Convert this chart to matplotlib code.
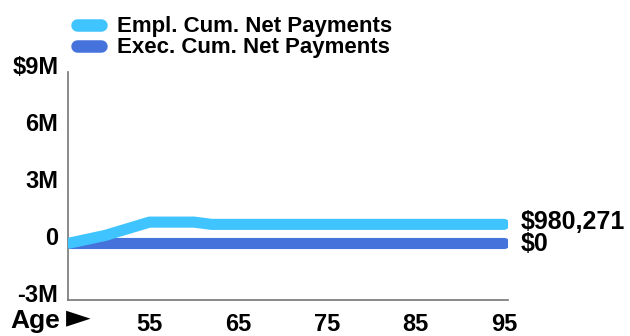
import matplotlib
matplotlib.use('Agg')
import matplotlib.pyplot as plt
import matplotlib.transforms as mtransforms

# region Data
ages = [46, 50, 55, 60, 62, 65, 70, 75, 80, 85, 90, 95]
empl_cum = [0, 400000, 1100000, 1100000, 980271, 980271, 980271, 980271, 980271, 980271, 980271, 980271]
exec_cum = [0, 0, 0, 0, 0, 0, 0, 0, 0, 0, 0, 0]
series_names = ['Empl. Cum. Net Payments', 'Exec. Cum. Net Payments']
end_labels = ['$980,271', '$0']
y_ticks = [-3e6, 0, 3e6, 6e6, 9e6]
y_tick_labels = ['-3M', '0', '3M', '6M', '$9M']
x_ticks = [55, 65, 75, 85, 95]
# endregion

# region Style
plt.rcParams['font.family'] = ['Liberation Sans', 'DejaVu Sans']
plt.rcParams['font.weight'] = 'bold'
light_blue = '#40C4FF'
dark_blue = '#4673DB'
spine_gray = '#777777'
# endregion

fig = plt.figure(figsize=(6.3, 3.36), dpi=100, facecolor='white')
ax = fig.add_axes([0.108, 0.107, 0.699, 0.679])

ax.plot(ages, exec_cum, color=dark_blue, lw=8, solid_capstyle='round',
        solid_joinstyle='round', label=series_names[1], zorder=2)
ax.plot(ages, empl_cum, color=light_blue, lw=8, solid_capstyle='round',
        solid_joinstyle='round', label=series_names[0], zorder=3)

ax.set_xlim(45.8, 95.5)
ax.set_ylim(-3e6, 9e6)

for s in ['top', 'right']:
    ax.spines[s].set_visible(False)
for s in ['left', 'bottom']:
    ax.spines[s].set_color(spine_gray)
    ax.spines[s].set_linewidth(1.2)

ax.set_yticks(y_ticks)
ax.set_yticklabels(y_tick_labels, fontsize=17, fontweight='bold')
ax.set_xticks(x_ticks)
ax.set_xticklabels([str(t) for t in x_ticks], fontsize=17, fontweight='bold')
ax.tick_params(length=0, pad=7)
ax.tick_params(axis='x', pad=9)

# shift y labels up a little like the original
offset = mtransforms.ScaledTranslation(0, 5 / 72, fig.dpi_scale_trans)
for lab in ax.get_yticklabels():
    lab.set_transform(lab.get_transform() + offset)

fig.text(10 / 630, 3 / 336, 'Age', fontsize=19, fontweight='bold', va='bottom')
fig.text(66 / 630, 1 - 318 / 336, '\u25ba', fontsize=23, family='DejaVu Sans', va='center')

# end-of-line value labels
ax.annotate(end_labels[0], xy=(ages[-1], empl_cum[-1]), xytext=(12, 1.5),
            textcoords='offset points', fontsize=18, fontweight='bold', va='center')
ax.annotate(end_labels[1], xy=(ages[-1], exec_cum[-1]), xytext=(12, -1),
            textcoords='offset points', fontsize=18, fontweight='bold', va='center')

handles, labels = ax.get_legend_handles_labels()
leg = fig.legend(handles[::-1], labels[::-1], loc='upper left',
                 bbox_to_anchor=(0.09, 1.011), frameon=False,
                 handlelength=1.1, handletextpad=0.72, labelspacing=0.0,
                 prop={'weight': 'bold', 'size': 16})
for line in leg.get_lines():
    line.set_linewidth(9)
    line.set_solid_capstyle('round')

fig.savefig('out.png', dpi=100, facecolor='white')
